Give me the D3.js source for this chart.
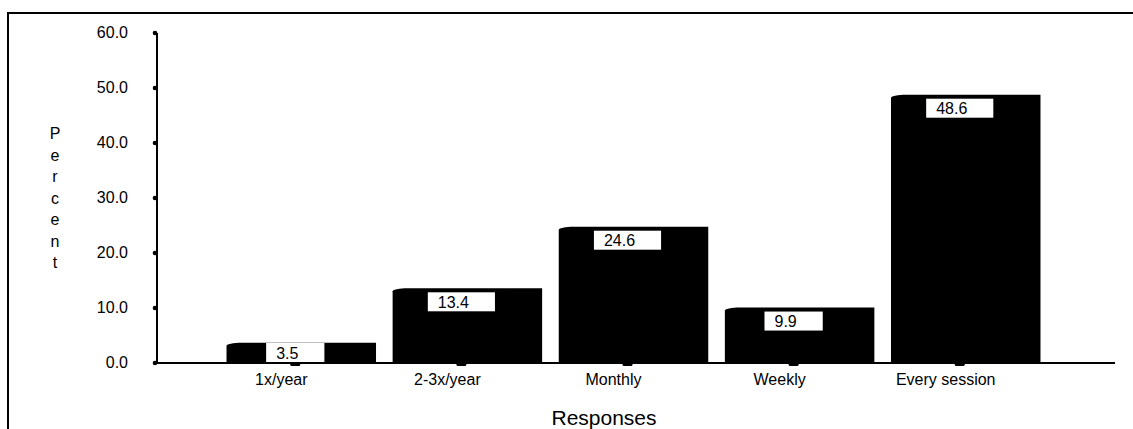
<!DOCTYPE html>
<html>
<head>
<meta charset="utf-8">
<script src="https://cdn.jsdelivr.net/npm/d3@7"></script>
<style>
  html, body { margin: 0; padding: 0; background: #fff; }
  svg { display: block; }
  text { font-family: "Liberation Sans", Arial, sans-serif; fill: #000; }
</style>
</head>
<body>
<svg id="chart" width="1133" height="429"></svg>
<script>
// Response frequency data
const categories = ["1x/year", "2-3x/year", "Monthly", "Weekly", "Every session"];
const percents = [3.5, 13.4, 24.6, 9.9, 48.6];
const yTicks = [0, 10, 20, 30, 40, 50, 60];
const yTitle = "Percent";
const xTitle = "Responses";

const svg = d3.select("#chart");

// outer frame (runs off the right and bottom edges)
svg.append("rect")
  .attr("x", 8).attr("y", 13)
  .attr("width", 1140).attr("height", 440)
  .attr("fill", "none").attr("stroke", "#000").attr("stroke-width", 2);

const y = d3.scaleLinear().domain([0, 60]).range([363, 33]);
const x = d3.scaleBand().domain(categories).range([212, 1043]).paddingInner(0.0975).paddingOuter(0.05);
const step = x.step();
const barW = step * 0.9;
const center = c => x(c) + x.bandwidth() / 2;
const barShift = 6;

// bars, with a slightly bevelled top-left corner
const bars = svg.append("g");
categories.forEach((c, i) => {
  const cx = center(c) + barShift;
  const top = y(percents[i]);
  const left = cx - barW / 2, right = cx + barW / 2;
  bars.append("path")
    .attr("d", `M${left},${y(0)} L${left},${top + 2} Q${left},${top} ${left + 12},${top - 1} L${right},${top - 1} L${right},${y(0)} Z`)
    .attr("fill", "#000");
});

// y axis
const yAxis = svg.append("g");
yAxis.append("line")
  .attr("x1", 157).attr("x2", 157).attr("y1", y(60)).attr("y2", y(0))
  .attr("stroke", "#000").attr("stroke-width", 2);
yAxis.selectAll("circle").data(yTicks).join("circle")
  .attr("cx", 155).attr("cy", d => y(d)).attr("r", 2.3).attr("fill", "#000");
yAxis.selectAll("text").data(yTicks).join("text")
  .attr("x", 128).attr("y", d => y(d) + 5)
  .attr("text-anchor", "end").attr("font-size", 16)
  .text(d => d.toFixed(1));

// x axis
const xAxis = svg.append("g");
xAxis.append("line")
  .attr("x1", 157).attr("x2", 1115).attr("y1", y(0)).attr("y2", y(0))
  .attr("stroke", "#000").attr("stroke-width", 2);
xAxis.selectAll("rect.tick").data(categories).join("rect")
  .attr("class", "tick")
  .attr("x", d => center(d) - 5).attr("y", y(0)).attr("width", 10).attr("height", 3)
  .attr("rx", 1.5).attr("fill", "#000");
xAxis.selectAll("text").data(categories).join("text")
  .attr("x", d => center(d) - 14).attr("y", 385)
  .attr("text-anchor", "middle").attr("font-size", 16)
  .text(d => d);

// value boxes: white label sized to its text, centred on the category
const labels = svg.append("g");
categories.forEach((c, i) => {
  const top = y(percents[i]);
  const bh = 19;
  const by = Math.min(top + 3, y(0) - bh - 1);
  const rect = labels.append("rect").attr("fill", "#fff");
  const t = labels.append("text")
    .attr("y", by + bh - 3.5)
    .attr("font-size", 16)
    .text(percents[i].toFixed(1));
  const bw = t.node().getComputedTextLength() + 36;
  const bx = center(c) - bw / 2;
  rect.attr("x", bx).attr("y", by).attr("width", bw).attr("height", bh);
  t.attr("x", bx + 10);
});

// axis titles
svg.append("g").selectAll("text").data(yTitle.split("")).join("text")
  .attr("x", 55).attr("y", (d, i) => 139 + i * 21.5)
  .attr("text-anchor", "middle").attr("font-size", 16)
  .text(d => d);

svg.append("text")
  .attr("x", 604).attr("y", 425)
  .attr("text-anchor", "middle").attr("font-size", 21)
  .text(xTitle);
</script>
</body>
</html>
